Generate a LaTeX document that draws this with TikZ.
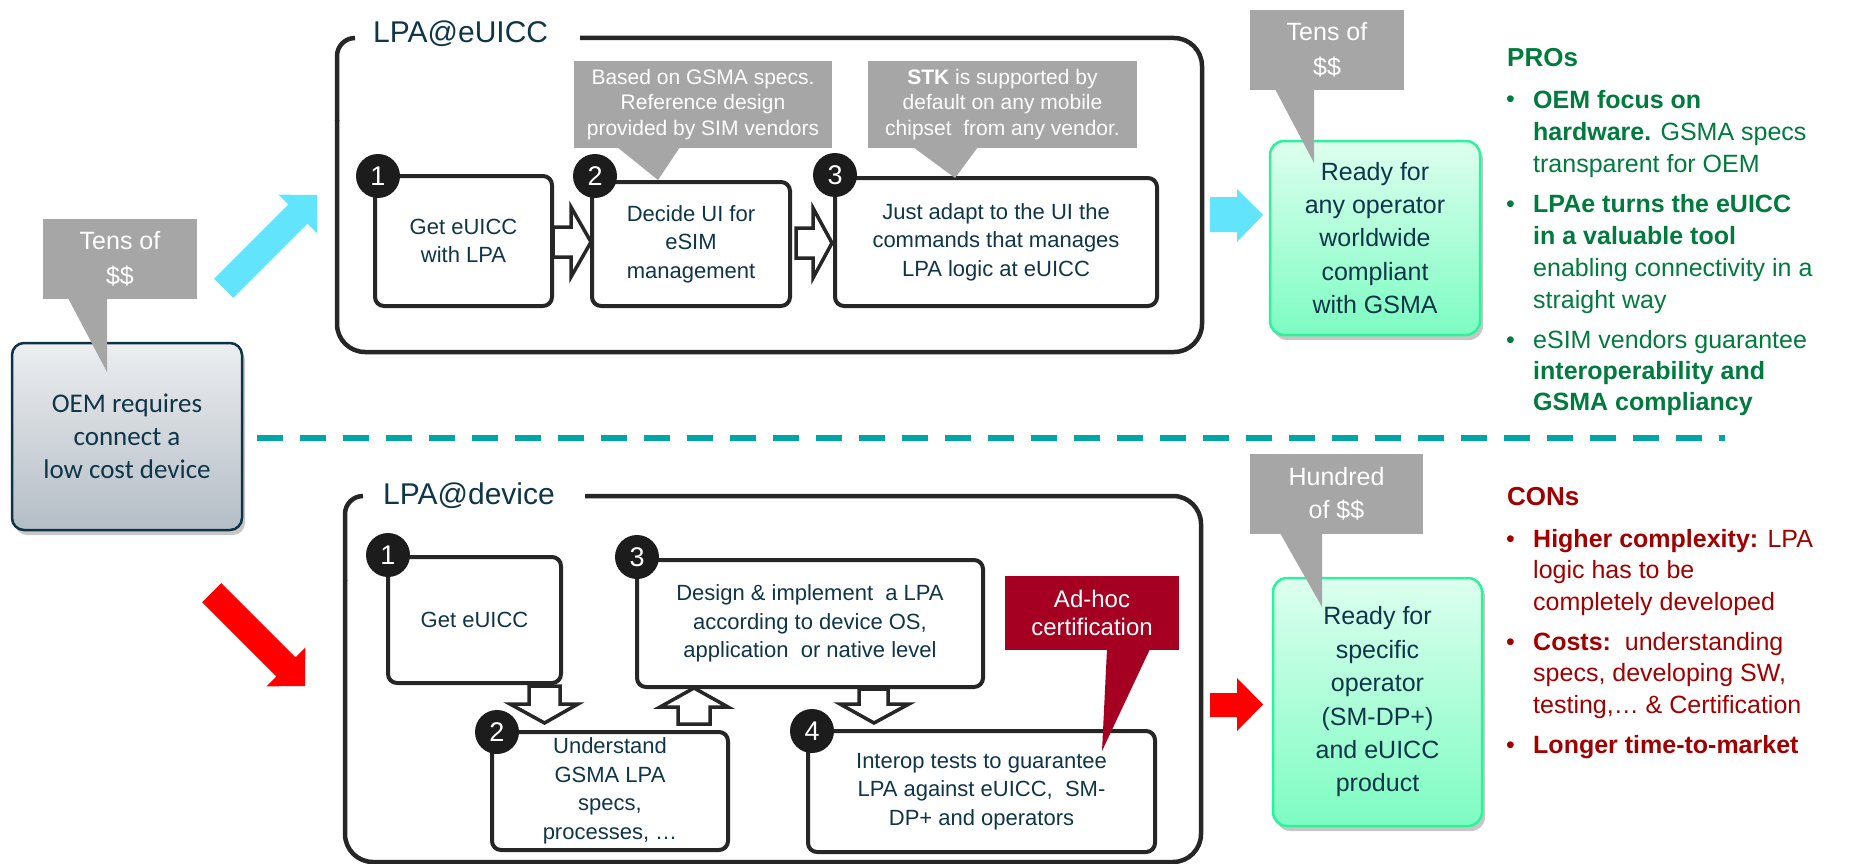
\documentclass[tikz,border=0pt]{standalone}
\usepackage{fontspec}
\setmainfont{Liberation Sans}
\newfontfamily\oemfont{Carlito}
\usetikzlibrary{shadows}
\definecolor{navy}{HTML}{0F3549}
\definecolor{dk}{HTML}{262626}
\definecolor{callgray}{HTML}{A6A6A6}
\definecolor{adred}{HTML}{A50021}
\definecolor{cyanA}{HTML}{62E5FC}
\definecolor{dashteal}{HTML}{00A6A6}
\definecolor{progreen}{HTML}{007A3D}
\definecolor{conred}{HTML}{A00000}
\definecolor{grnborder}{HTML}{2CF29B}
\definecolor{grntop}{HTML}{DDFFEF}
\definecolor{grnbot}{HTML}{7DFCC2}
\definecolor{oemtop}{HTML}{ECEEF0}
\definecolor{oembot}{HTML}{B4BDC6}
\definecolor{oemborder}{HTML}{0E3346}
\definecolor{badgecol}{HTML}{1C1C1C}
\definecolor{redA}{HTML}{FF0000}
\begin{document}
\begin{tikzpicture}[x=1pt,y=-1pt,
  stepbox/.style={draw=dk,line width=4pt,rounded corners=9pt,fill=white,text=navy,align=center,inner sep=0pt,font=\fontsize{22}{28.5}\selectfont},
  badge/.style={circle,fill=badgecol,text=white,minimum size=44pt,inner sep=0pt,font=\fontsize{27}{27}\selectfont},
  hollow/.style={draw=dk,line width=3.5pt,fill=white,line join=miter},
  callout/.style={fill=callgray,text=white,align=center,inner sep=0pt,font=\fontsize{25}{35}\selectfont},
  smallcall/.style={callout,font=\fontsize{21}{25.5}\selectfont},
  outerbox/.style={draw=dk,line width=4.5pt,rounded corners=28pt},
  titletext/.style={text=navy,anchor=base west,inner sep=0pt,font=\fontsize{30}{30}\selectfont},
  ready/.style={draw=grnborder,line width=2.5pt,rounded corners=14pt,top color=grntop,bottom color=grnbot,text=navy,align=center,inner sep=0pt,font=\fontsize{25}{33.4}\selectfont,drop shadow={shadow xshift=3pt,shadow yshift=-5pt,opacity=0.22,fill=black}},
  listtext/.style={anchor=base west,align=left,inner sep=0pt,font=\fontsize{25}{32}\selectfont},
  bul/.style={anchor=base west,inner sep=0pt,font=\fontsize{25}{32}\selectfont}]
\useasboundingbox (0,0) rectangle (1854,864);

% ---------- outer frames ----------
\draw[outerbox] (580,38) -- (1202,38) -- (1202,352) -- (337,352) -- (337,120);
\draw[draw=dk,line width=4.5pt] (337,121) -- (337,56) arc[start angle=180,end angle=90,radius=18pt];
\node[titletext] (t1) at (373,43) {LPA@eUICC};

\draw[outerbox] (585,496) -- (1201,496) -- (1201,862) -- (345,862) -- (345,580);
\draw[draw=dk,line width=4.5pt] (345,581) -- (345,514) arc[start angle=180,end angle=90,radius=18pt];
\node[titletext] (t2) at (383,504) {LPA@device};

% ---------- OEM box ----------
\node[draw=oemborder,line width=2.5pt,rounded corners=12pt,top color=oemtop,bottom color=oembot,text=navy,align=center,inner sep=0pt,minimum width=230pt,minimum height=187pt,font=\oemfont\fontsize{27}{33}\selectfont,drop shadow={shadow xshift=3pt,shadow yshift=-5pt,opacity=0.22,fill=black}] (oem) at (127,436.5) {OEM requires\\connect a\\low cost device};

% ---------- separator ----------
\draw[dashteal,line width=6pt,dash pattern=on 26pt off 17pt] (257,438) coordinate (dstart) -- (1725,438) coordinate (dend);

% ---------- diagonal arrows ----------
\begin{scope}[shift={(317,195)},rotate=45]
  \fill[cyanA] (0,0) -- (-27,27.5) -- (-27,13.5) -- (-132,13.5) -- (-132,-13.5) -- (-27,-13.5) -- (-27,-27.5) -- cycle;
\end{scope}
\begin{scope}[shift={(305,686)},rotate=-45]
  \fill[redA] (0,0) -- (-27,27.5) -- (-27,13.5) -- (-132,13.5) -- (-132,-13.5) -- (-27,-13.5) -- (-27,-27.5) -- cycle;
\end{scope}

% ---------- top steps ----------
\node[stepbox,minimum width=177pt,minimum height=130pt] (s1) at (463.5,241) {Get eUICC\\with LPA};
\node[stepbox,minimum width=198pt,minimum height=124pt] (s2) at (691,244) {Decide UI for\\eSIM\\management};
\node[stepbox,minimum width=322pt,minimum height=128pt] (s3) at (996,242) {Just adapt to the UI\ the\\commands\ that manages\\LPA\ logic\ at eUICC};
\node[badge] (n1) at (378,176) {1};
\node[badge] (n2) at (595,176) {2};
\node[badge] (n3) at (835,175) {3};
\draw[hollow] (553,227) -- (571,227) -- (571,207) -- (591,242) -- (571,277) -- (571,257) -- (553,257) -- cycle;
\draw[hollow] (796,228) -- (813,228) -- (813,208) -- (832,243) -- (813,278) -- (813,258) -- (796,258) -- cycle;

% ---------- bottom steps ----------
\node[stepbox,minimum width=173pt,minimum height=126pt] (b1) at (474.5,620) {Get eUICC};
\node[stepbox,minimum width=236pt,minimum height=118pt] (b2) at (610,791) {Understand\\GSMA\ LPA\\specs,\\processes, …};
\node[stepbox,minimum width=346pt,minimum height=127pt] (b3) at (810,623.5) {Design \&\ implement\ \ a LPA\\according to device OS,\\application\ \ or native level};
\node[stepbox,minimum width=347pt,minimum height=121pt] (b4) at (981.5,791.5) {Interop\ tests to guarantee\\LPA\ against\ eUICC,\ \ SM-\\DP+\ and operators};
\node[badge] (m1) at (388,555) {1};
\node[badge] (m2) at (497,732) {2};
\node[badge] (m3) at (637,557) {3};
\node[badge] (m4) at (812,731) {4};
\draw[hollow] (529,686) -- (560,686) -- (560,704) -- (578,704) -- (544.5,723) -- (510,704) -- (529,704) -- cycle;
\draw[hollow] (678,724) -- (710,724) -- (710,707) -- (728,707) -- (694,688) -- (660,707) -- (678,707) -- cycle;
\draw[hollow] (859,689) -- (888,689) -- (888,704) -- (909,704) -- (874,723) -- (840,704) -- (859,704) -- cycle;

% ---------- result boxes ----------
\node[ready,minimum width=210pt,minimum height=194pt] (g1) at (1375,238) {Ready\ for\\any\ operator\\worldwide\\compliant\\with GSMA};
\node[ready,minimum width=209pt,minimum height=248pt] (g2) at (1377.5,702) {Ready\ for\\specific\\operator\\(SM-DP+)\\and eUICC\\product};

% right block arrows
\fill[cyanA] (1210,197) -- (1237,197) -- (1237,189) -- (1263,215) -- (1237,242) -- (1237,232) -- (1210,232) -- cycle;
\fill[redA] (1210,693) -- (1237,693) -- (1237,678) -- (1263,704.5) -- (1237,731) -- (1237,717) -- (1210,717) -- cycle;

% ---------- callouts ----------
\node[callout,minimum width=154pt,minimum height=80pt] (cL) at (120,259) {Tens\ of\\\$\$};
\coordinate (cLtip) at (107,372);
\fill[callgray] (68,298) -- (cLtip) -- (107,298) -- cycle;

\node[callout,minimum width=154pt,minimum height=80pt] (cT) at (1327,50) {Tens\ of\\\$\$};
\coordinate (cTtip) at (1314,163);
\fill[callgray] (1275,89) -- (cTtip) -- (1314,89) -- cycle;

\node[callout,minimum width=173pt,minimum height=80pt,font=\fontsize{25}{33}\selectfont] (cH) at (1336.5,494) {Hundred\\of \$\$};
\coordinate (cHtip) at (1322,607);
\fill[callgray] (1280,533) -- (cHtip) -- (1322,533) -- cycle;

\node[smallcall,minimum width=258pt,minimum height=87pt] (cB) at (703,104.5) {Based on GSMA specs.\\Reference design\\provided by SIM vendors};
\coordinate (cBtip) at (658,180);
\fill[callgray] (617,147) -- (cBtip) -- (680,147) -- cycle;

\node[smallcall,minimum width=269pt,minimum height=87pt] (cS) at (1002.5,104.5) {\textbf{STK} is supported by\\default on any mobile\\chipset\ \ from any vendor.};
\coordinate (cStip) at (955,178);
\fill[callgray] (913,147) -- (cStip) -- (978,147) -- cycle;

\node[callout,fill=adred,minimum width=174pt,minimum height=74pt,font=\fontsize{24}{28}\selectfont] (cA) at (1092,613) {Ad-hoc\\certification};
\coordinate (cAtip) at (1102,751);
\fill[adred] (1107,649) -- (cAtip) -- (1150,649) -- cycle;

% ---------- PROs (base anchor = last line) ----------
\node[listtext,text=progreen,font=\bfseries\fontsize{26}{32}\selectfont] (pros) at (1507,67) {PROs};
\node[bul,text=progreen] (pb1) at (1506,108) {•};
\node[listtext,text=progreen] (pi1) at (1533,172) {\textbf{OEM focus on}\\\textbf{hardware.} GSMA specs\\transparent for OEM};
\node[bul,text=progreen] (pb2) at (1506,212) {•};
\node[listtext,text=progreen] (pi2) at (1533,308) {\textbf{LPAe turns the eUICC}\\\textbf{in a valuable tool}\\enabling connectivity in a\\straight way};
\node[bul,text=progreen] (pb3) at (1506,348) {•};
\node[listtext,text=progreen,font=\fontsize{25}{31}\selectfont] (pi3) at (1533,410) {eSIM vendors guarantee\\\textbf{interoperability and}\\\textbf{GSMA compliancy}};

% ---------- CONs ----------
\node[listtext,text=conred,font=\bfseries\fontsize{26}{32}\selectfont] (cons) at (1507,505) {CONs};
\node[bul,text=conred] (cb1) at (1506,547) {•};
\node[listtext,text=conred,font=\fontsize{25}{31.5}\selectfont] (ci1) at (1533,610) {\textbf{Higher complexity:} LPA\\logic has to be\\completely developed};
\node[bul,text=conred] (cb2) at (1506,650) {•};
\node[listtext,text=conred,font=\fontsize{25}{31.5}\selectfont] (ci2) at (1533,713) {\textbf{Costs:}\ \ understanding\\specs, developing SW,\\testing,… \& Certification};
\node[bul,text=conred] (cb3) at (1506,753) {•};
\node[listtext,text=conred] (ci3) at (1533,753) {\textbf{Longer time-to-market}};
\end{tikzpicture}
\end{document}
